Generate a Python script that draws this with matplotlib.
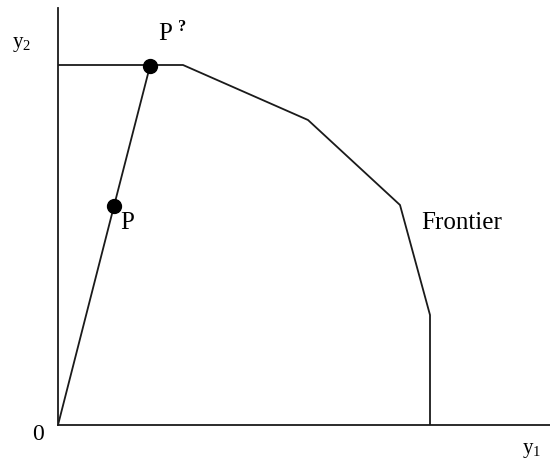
import matplotlib
matplotlib.use("Agg")
import matplotlib.pyplot as plt

plt.rcParams['font.family'] = ['Liberation Serif', 'DejaVu Serif']
plt.rcParams['mathtext.fontset'] = 'custom'
plt.rcParams['mathtext.rm'] = 'Liberation Serif'

# production frontier (y1, y2)
frontier_y1 = [0, 125, 250, 342, 372, 372]
frontier_y2 = [360, 360, 305, 220, 110, 0]

# ray from the origin through P to P'
ray_y1 = [0, 56, 92]
ray_y2 = [0, 219, 359]
points_y1 = [56, 92]
points_y2 = [219, 359]

fig = plt.figure(figsize=(5.5, 4.62), dpi=100)
ax = fig.add_axes([58/550, 37/462, 492/550, 417/462])
ax.set_xlim(0, 492)
ax.set_ylim(0, 417)

ax.plot(frontier_y1, frontier_y2, color='#1a1a1a', lw=1.3)
ax.plot(ray_y1, ray_y2, color='#1a1a1a', lw=1.3)
ax.plot(points_y1, points_y2, 'o', color='black', markersize=10)

for s in ['top', 'right']:
    ax.spines[s].set_visible(False)
for s in ['left', 'bottom']:
    ax.spines[s].set_color('#1a1a1a')
    ax.spines[s].set_linewidth(1.3)
ax.set_xticks([])
ax.set_yticks([])

ax.text(69, 202, 'P', fontsize=18, ha='center', va='center')
ax.text(107, 391, 'P', fontsize=18, ha='center', va='center')
ax.text(124, 398, '?', fontsize=12, fontweight='bold', ha='center', va='center')
ax.text(404, 202, 'Frontier', fontsize=18, ha='center', va='center')
ax.text(-36, 381, r'$\mathregular{y_2}$', fontsize=15, ha='center', va='center', clip_on=False)
ax.text(474, -25, r'$\mathregular{y_1}$', fontsize=15, ha='center', va='center', clip_on=False)
ax.text(-20, -10, '0', fontsize=17, ha='center', va='center', clip_on=False)

fig.savefig('out.png', dpi=100)
